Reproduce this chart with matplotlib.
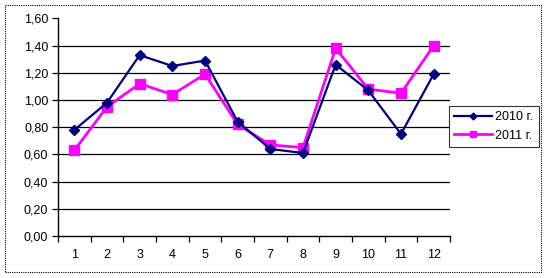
import matplotlib
matplotlib.use("Agg")
import matplotlib.pyplot as plt
from matplotlib.patches import Rectangle
from matplotlib.ticker import FixedLocator, FuncFormatter
import numpy as np

months = [1, 2, 3, 4, 5, 6, 7, 8, 9, 10, 11, 12]
s2010 = [0.78, 0.98, 1.33, 1.25, 1.29, 0.84, 0.64, 0.61, 1.26, 1.07, 0.75, 1.19]
s2011 = [0.63, 0.95, 1.12, 1.04, 1.19, 0.82, 0.67, 0.65, 1.38, 1.08, 1.05, 1.40]
labels = ["2010 г.", "2011 г."]
yticks = [0.0, 0.2, 0.4, 0.6, 0.8, 1.0, 1.2, 1.4, 1.6]

plt.rcParams['font.family'] = ['Liberation Sans', 'DejaVu Sans']

fig = plt.figure(figsize=(5.47, 2.78), dpi=100)
ax = fig.add_axes([58/547, 1-236/278, (450-58)/547, (236-18.4)/278])

# outer dotted border
fig.patches.append(Rectangle((5/547, 1-272/278), (541-5)/547, (272-5)/278,
                             transform=fig.transFigure, fill=False,
                             edgecolor='black', linewidth=0.8, linestyle=(0, (1, 1))))

for y in yticks[1:-1]:
    ax.axhline(y, color='black', linewidth=0.9, zorder=1)

ax.plot(months, s2010, color='#000080', linewidth=1.6, marker='D', markersize=5,
        label=labels[0], zorder=3)
ax.plot(months, s2011, color='#FF00FF', linewidth=2.0, marker='s', markersize=7,
        label=labels[1], zorder=2)

ax.set_xlim(0.5, 12.5)
ax.set_ylim(0, 1.6)
ax.set_yticks(yticks)
ax.yaxis.set_major_formatter(FuncFormatter(lambda v, p: f"{v:.2f}".replace('.', ',')))
ax.set_xticks(months)
ax.set_xticklabels([str(m) for m in months])
ax.xaxis.set_minor_locator(FixedLocator(np.arange(0.5, 13, 1)))
ax.tick_params(axis='x', which='major', length=0, pad=9, labelsize=9)
ax.tick_params(axis='x', which='minor', length=4, width=0.9, direction='out')
ax.tick_params(axis='y', length=4, width=0.9, direction='out', labelsize=9, pad=3)

for side in ['top', 'right']:
    ax.spines[side].set_visible(False)
for side in ['left', 'bottom']:
    ax.spines[side].set_linewidth(1.0)

leg = ax.legend(loc='center', bbox_to_anchor=(449/547, 1-147/278, (539-449)/547, (147-106)/278),
                bbox_transform=fig.transFigure, mode='expand', frameon=True, fancybox=False,
                edgecolor='black', fontsize=9, handlelength=3.0, borderaxespad=0,
                labelspacing=0.5, borderpad=0.4, handletextpad=0.3, markerscale=0.7)
leg.get_frame().set_linewidth(0.8)

fig.savefig("out.png", dpi=100)
